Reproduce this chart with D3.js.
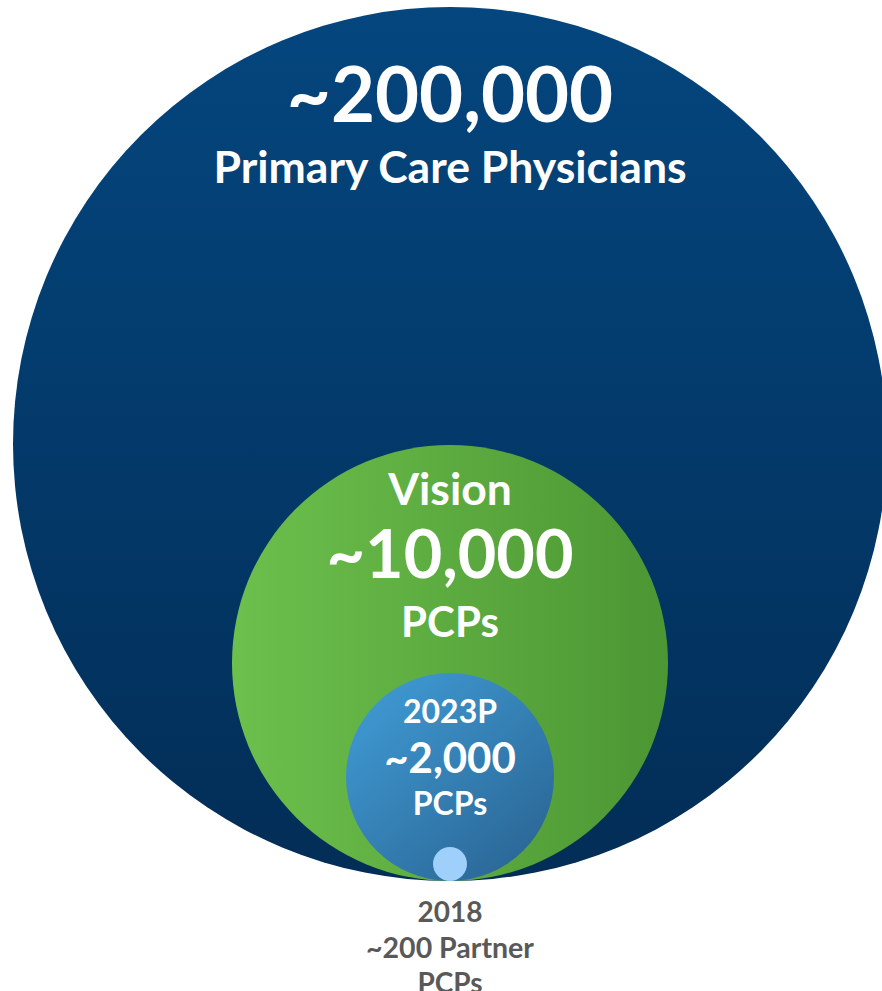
<!DOCTYPE html>
<html>
<head>
<meta charset="utf-8">
<script src="https://cdn.jsdelivr.net/npm/d3@7"></script>
<style>
  html, body { margin: 0; padding: 0; background: #fff; }
  svg text { font-family: Lato, "Open Sans", sans-serif; font-weight: 700; }
</style>
</head>
<body>
<div id="chart"></div>
<script>
// tiers, from the whole market down to 2018 partners
const tiers = ["market", "vision", "plan2023", "partners2018"];
const values = [200000, 10000, 2000, 200];
const labelLines = [
  ["~200,000", "Primary Care Physicians"],
  ["Vision", "~10,000", "PCPs"],
  ["2023P", "~2,000", "PCPs"],
  ["2018", "~200 Partner", "PCPs"]
];

const W = 882, H = 991;
const bottomY = 881, cx = 450;

const svg = d3.select("#chart").append("svg")
  .attr("width", W)
  .attr("height", H);

// circle size: piecewise log scale (the slide is not drawn to area)
const rScale = d3.scaleLog()
  .domain([200, 2000, 10000, 200000])
  .range([17, 104, 218, 437]);

const defs = svg.append("defs");

const gradDefs = [
  { id: "g-market", x1: 0, y1: 0, x2: 0, y2: 1, stops: ["#04467e", "#022d56"] },
  { id: "g-vision", x1: 0, y1: 0, x2: 1, y2: 0, stops: ["#6cc04c", "#4c9633"] },
  { id: "g-plan2023", x1: 0.15, y1: 0.1, x2: 0.85, y2: 0.9, stops: ["#3e97d0", "#2b6898"] },
  { id: "g-partners2018", x1: 0, y1: 0, x2: 0, y2: 1, stops: ["#9fd0fb", "#9fd0fb"] }
];

gradDefs.forEach(g => {
  const lg = defs.append("linearGradient")
    .attr("id", g.id)
    .attr("x1", g.x1).attr("y1", g.y1)
    .attr("x2", g.x2).attr("y2", g.y2);
  g.stops.forEach((c, i) => {
    lg.append("stop")
      .attr("offset", i / (g.stops.length - 1))
      .attr("stop-color", c);
  });
});

// =========================
// CIRCLES (all touching at the bottom)
// =========================

svg.selectAll("circle.tier")
  .data(tiers.map((t, i) => ({ tier: t, value: values[i] })))
  .join("circle")
  .attr("class", "tier")
  .attr("cx", cx)
  .attr("cy", d => bottomY - rScale(d.value))
  .attr("r", d => rScale(d.value))
  .attr("fill", d => `url(#g-${d.tier})`);

// =========================
// LABELS
// =========================

const labelStyle = [
  { ys: [122, 183], sizes: [76, 44.5], fill: "#fff" },
  { ys: [505, 578, 637], sizes: [44.5, 66.5, 42], fill: "#fff" },
  { ys: [723, 773, 815], sizes: [32, 42, 32], fill: "#fff" },
  { ys: [922, 958, 993], sizes: [28, 28.5, 28], fill: "#595959" }
];

labelLines.forEach((lines, i) => {
  const st = labelStyle[i];
  lines.forEach((txt, j) => {
    svg.append("text")
      .attr("x", cx)
      .attr("y", st.ys[j])
      .attr("text-anchor", "middle")
      .attr("font-size", st.sizes[j])
      .attr("fill", st.fill)
      .text(txt);
  });
});
</script>
</body>
</html>
